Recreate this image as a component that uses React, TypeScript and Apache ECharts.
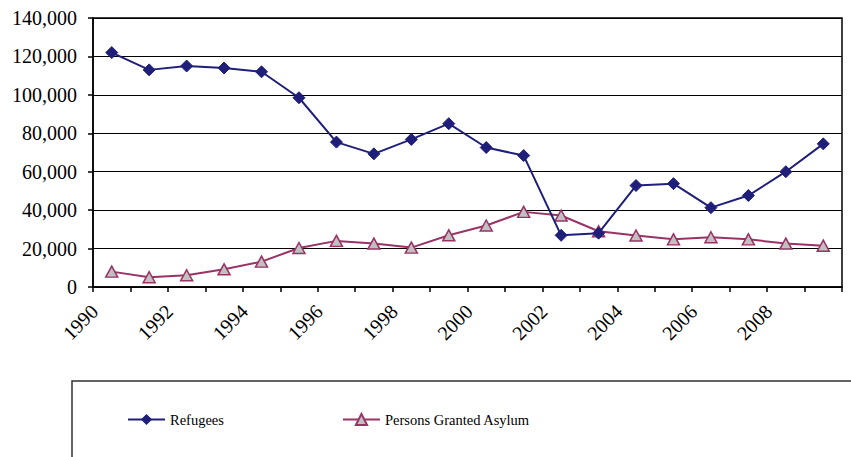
import React, { useEffect, useRef } from "react";
import * as echarts from "echarts";

const years = ["1990","1991","1992","1993","1994","1995","1996","1997","1998","1999","2000","2001","2002","2003","2004","2005","2006","2007","2008","2009"];
const refugees = [122000,113000,115000,114000,112000,98500,75400,69300,76800,85000,72600,68400,26900,28000,52800,53800,41300,47600,60000,74500];
const asylum = [8000,5100,6100,9200,13200,20300,24000,22600,20500,26900,32000,39100,37200,29000,26800,24800,25900,24800,22600,21500];
// tick labels sit on the category boundaries (one boundary more than categories)
const tickYears = ["1990","1991","1992","1993","1994","1995","1996","1997","1998","1999","2000","2001","2002","2003","2004","2005","2006","2007","2008","2009","2010"];
const yTicks = { min: 0, max: 140000, interval: 20000 };

const FONT = "Liberation Serif, Times New Roman, serif";

export default function App() {
  const ref = useRef<HTMLDivElement>(null);
  useEffect(() => {
    document.body.style.margin = "0";
    if (!ref.current) return;
    const chart = echarts.init(ref.current, undefined, { renderer: "svg" });
    chart.setOption({
      animation: false,
      backgroundColor: "#fff",
      textStyle: { fontFamily: FONT },
      grid: [
        {
          left: 93,
          right: 9,
          top: 18,
          bottom: 170,
          show: true,
          borderColor: "#000",
          borderWidth: 1.5,
          backgroundColor: "transparent",
        },
        {
          left: 94.5,
          right: 7.5,
          top: 18,
          bottom: 170,
          show: false,
        },
      ],
      legend: {
        data: ["Refugees", "Persons Granted Asylum"],
        left: 122,
        top: 407,
        itemWidth: 37,
        itemHeight: 14,
        itemGap: 118,
        textStyle: { fontFamily: FONT, fontSize: 14.5, color: "#000" },
      },
      graphic: [
        {
          type: "rect",
          shape: { x: 72, y: 381, width: 820, height: 120 },
          style: { fill: "none", stroke: "#333", lineWidth: 1.5 },
          silent: true,
        },
      ],
      xAxis: [
        {
          type: "category",
          gridIndex: 0,
          data: years,
          boundaryGap: true,
          axisLine: { lineStyle: { color: "#000", width: 1.5 } },
          axisTick: { show: true, interval: 0, length: 5, lineStyle: { color: "#000", width: 1.5 } },
          axisLabel: { show: false },
          splitLine: { show: false },
        },
        {
          type: "category",
          gridIndex: 1,
          data: tickYears,
          boundaryGap: false,
          position: "bottom",
          axisLine: { show: false },
          axisTick: { show: false },
          splitLine: { show: false },
          axisLabel: {
            interval: (i: number) => i % 2 === 0 && i < tickYears.length - 1,
            rotate: 45,
            margin: 21,
            fontFamily: FONT,
            fontSize: 20,
            color: "#000",
          },
        },
      ],
      yAxis: [
        {
          type: "value",
          gridIndex: 0,
          min: yTicks.min,
          max: yTicks.max,
          interval: yTicks.interval,
          axisLine: { show: true, lineStyle: { color: "#000", width: 1.5 } },
          axisTick: { show: true, length: 5, inside: false, lineStyle: { color: "#000", width: 1.5 } },
          axisLabel: {
            margin: 16,
            fontFamily: FONT,
            fontSize: 20,
            color: "#000",
            formatter: (v: number) => v.toLocaleString("en-US"),
          },
          splitLine: { show: true, lineStyle: { color: "#000", width: 1.2 } },
        },
        {
          type: "value",
          gridIndex: 1,
          min: yTicks.min,
          max: yTicks.max,
          interval: yTicks.interval,
          show: false,
        },
      ],
      series: [
        {
          name: "Refugees",
          type: "line",
          xAxisIndex: 0,
          yAxisIndex: 0,
          data: refugees,
          symbol: "diamond",
          symbolSize: 12,
          itemStyle: { color: "#1F1F7A", borderColor: "#1F1F7A" },
          lineStyle: { color: "#1F1F7A", width: 2 },
          z: 3,
        },
        {
          name: "Persons Granted Asylum",
          type: "line",
          xAxisIndex: 0,
          yAxisIndex: 0,
          data: asylum,
          symbol: "triangle",
          symbolSize: [12, 11],
          itemStyle: { color: "#C0C0C0", borderColor: "#993366", borderWidth: 1.5 },
          lineStyle: { color: "#993366", width: 2 },
          z: 2,
        },
      ],
    });
    return () => chart.dispose();
  }, []);
  return <div ref={ref} style={{ width: 851, height: 457 }} />;
}
